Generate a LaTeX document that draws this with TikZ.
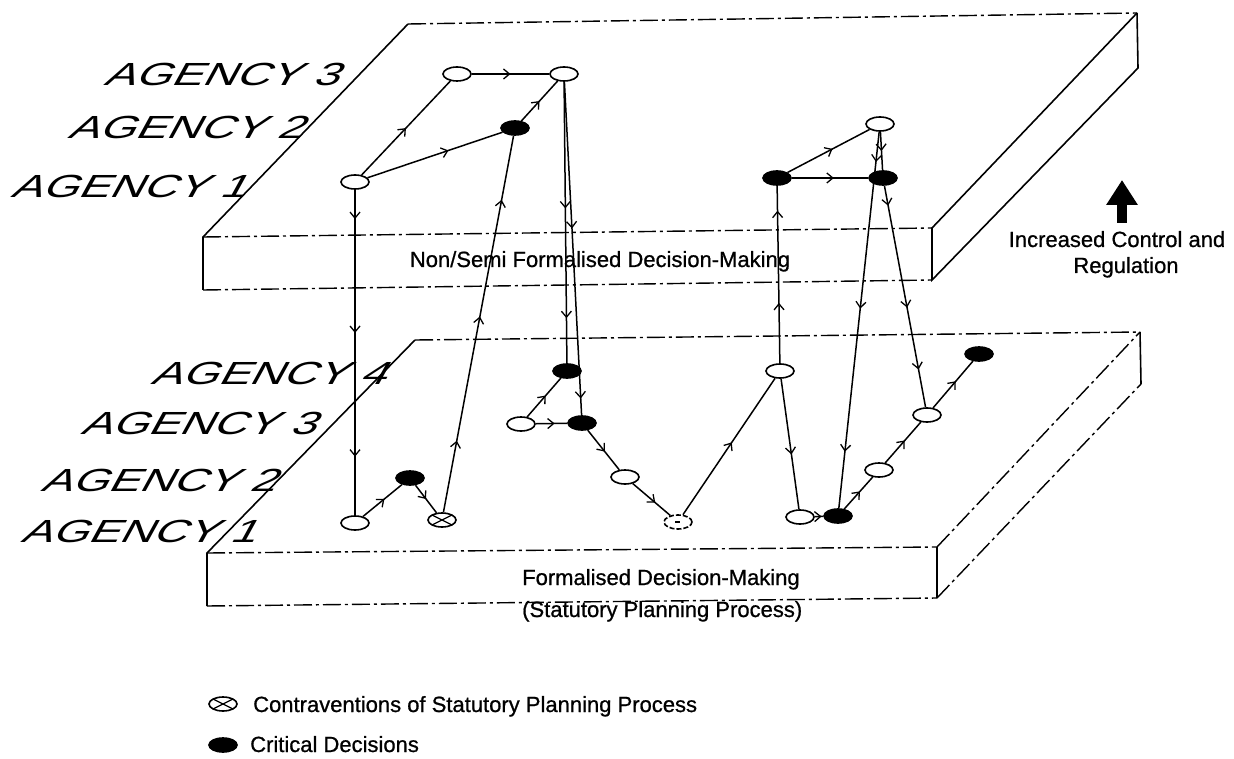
\documentclass[tikz,border=0pt]{standalone}
\usepackage{fontspec}
\setmainfont{Liberation Sans}
\newfontfamily\labelfont{Liberation Sans}[FakeBold=0.8]
\newfontfamily\handfont{Liberation Sans}[FakeSlant=0.55,FakeStretch=1.45]
\usetikzlibrary{arrows.meta,decorations.markings,shapes.geometric}

\tikzset{
  dec/.style={ellipse,draw,line width=1.6pt,minimum width=28pt,minimum height=14pt,inner sep=0pt},
  opendec/.style={dec,fill=white},
  critdec/.style={dec,fill=black},
  contra/.style={dec,fill=white,path picture={
    \draw[line width=1.3pt] (path picture bounding box.north west) -- (path picture bounding box.south east)
      (path picture bounding box.south west) -- (path picture bounding box.north east);}},
  contrafaint/.style={dec,fill=white,dash pattern=on 5pt off 2pt,path picture={
    \draw[line width=1.3pt] ([xshift=-3pt]path picture bounding box.center) -- ([xshift=3pt]path picture bounding box.center);}},
  flow/.style={line width=1.5pt},
  tipat/.style={postaction={decorate,decoration={markings,
    mark=at position #1 with {\arrow{Straight Barb[length=6pt,width=10pt,line width=1.3pt]}}}}},
  plate/.style={line width=1.6pt},
  faint/.style={line width=1.4pt,dash pattern=on 18pt off 4pt on 3pt off 4pt},
  agency/.style={font=\handfont\fontsize{32}{36}\selectfont,anchor=base west,inner sep=0pt},
  caption/.style={font=\labelfont\fontsize{22}{26}\selectfont,inner sep=0pt},
}

\begin{document}
\begin{tikzpicture}[x=1pt,y=-1pt]
    \useasboundingbox (0,0) rectangle (1234,759);
    % upper plate
    \coordinate (uBL) at (408,24);  \coordinate (uBR) at (1137,13);
    \coordinate (uFL) at (203,237); \coordinate (uFR) at (932,228);
    \coordinate (uFLb) at (203,290); \coordinate (uFRb) at (932,280); \coordinate (uBRb) at (1138,68);
    \draw[plate] (uFLb) -- (uFL) -- (uBL); \draw[faint] (uBL) -- (uBR);
    \draw[plate] (uBR) -- (uBRb) -- (uFRb) -- (uFR) -- (uBR);
    \draw[faint] (uFL) -- (uFR) (uFLb) -- (uFRb);
    % lower plate
    \coordinate (lBL) at (415,340);  \coordinate (lBR) at (1140,332);
    \coordinate (lFL) at (207,553); \coordinate (lFR) at (937,547);
    \coordinate (lFLb) at (207,606); \coordinate (lFRb) at (937,598); \coordinate (lBRb) at (1141,384);
    \draw[plate] (lFLb) -- (lFL) -- (lBL); \draw[plate] (lBR) -- (lBRb) (lFR) -- (lFRb);
    \draw[faint] (lBL) -- (lBR) (lFL) -- (lFR) (lFLb) -- (lFRb) (lFR) -- (lBR) (lFRb) -- (lBRb);

    \node[agency] (uag3) at (103,86) {AGENCY 3};
    \node[agency] (uag2) at (67,139) {AGENCY 2};
    \node[agency] (uag1) at (10,198) {AGENCY 1};
    \node[agency] (lag4) at (150,384) {AGENCY 4};
    \node[agency] (lag3) at (80,434) {AGENCY 3};
    \node[agency] (lag2) at (40,491) {AGENCY 2};
    \node[agency] (lag1) at (20,542) {AGENCY 1};

    \node[caption,anchor=base] (upname) at (600,267) {Non/Semi Formalised Decision-Making};
    \node[caption,anchor=base west] (lowname) at (522,585) {Formalised Decision-Making};
    \node[caption,anchor=base west] (lowsub) at (522,617) {(Statutory Planning Process)};
    \node[caption,anchor=base] (ctrl1) at (1117,247) {Increased Control and};
    \node[caption,anchor=base] (ctrl2) at (1126,273) {Regulation};
    \coordinate (upfoot) at (1122,223); \coordinate (uphead) at (1122,180);
    \draw[line width=10pt,-{Triangle[length=25pt,width=30pt]}] (upfoot) -- (uphead);

    % decisions, upper level
    \node[opendec] (ua1) at (355,182) {};  \node[opendec] (ua3) at (457,74) {};
    \node[opendec] (ub3) at (564,74) {};   \node[critdec] (ua2) at (515,128) {};
    \node[critdec] (uc1) at (777,178) {};  \node[critdec] (ud1) at (883,178) {};
    \node[opendec] (uc3) at (880,124) {};
    % decisions, lower level
    \node[opendec] (la1) at (355,523) {};  \node[critdec] (la2) at (410,478) {};
    \node[contra] (lx1) at (442,520) {};   \node[critdec] (la4) at (567,371) {};
    \node[opendec] (lb3) at (521,424) {};  \node[critdec] (lc3) at (582,423) {};
    \node[opendec] (lb2) at (625,477) {};  \node[contrafaint] (lx2) at (678,522) {};
    \node[opendec] (lb4) at (780,371) {};  \node[opendec] (lb1) at (800,517) {};
    \node[critdec] (lc1) at (838,516) {};  \node[opendec] (lc2) at (879,470) {};
    \node[opendec] (ld3) at (927,415) {};  \node[critdec] (ld4) at (979,354) {};

    \draw[flow,tipat=0.5] (ua1) -- (ua3);
    \draw[flow,tipat=0.5] (ua3) -- (ub3);
    \draw[flow,tipat=0.6] (ua1) -- (ua2);
    \draw[flow,tipat=0.5] (ua2) -- (ub3);
    \draw[flow,tipat=0.09,tipat=0.44,tipat=0.82] (ua1) -- (la1);
    \draw[flow,tipat=0.19,tipat=0.52,tipat=0.83] (lx1) -- (ua2);
    \draw[flow,tipat=0.45,tipat=0.84] (ub3) -- (la4);
    \draw[flow,tipat=0.44,tipat=0.95] (ub3) -- (lc3);
    \draw[flow,tipat=0.55] (la1) -- (la2);
    \draw[flow,tipat=0.5] (la2) -- (lx1);
    \draw[flow,tipat=0.55] (lb3) -- (la4);
    \draw[flow,tipat=0.6] (lb3) -- (lc3);
    \draw[flow,tipat=0.54] (lc3) -- (lb2);
    \draw[flow,tipat=0.6] (lb2) -- (lx2);
    \draw[flow,tipat=0.53] (lx2) -- (lb4);
    \draw[flow,tipat=0.34,tipat=0.86] (lb4) -- (uc1);
    \draw[flow,tipat=0.58] (lb4) -- (lb1);
    \draw[flow,tipat=0.55] (uc1) -- (uc3);
    \draw[flow,tipat=0.55] (uc1) -- (ud1);
    \draw[flow,tipat=0.5] (uc3) -- (ud1);
    \draw[flow,tipat=0.08,tipat=0.47,tipat=0.85] (uc3) -- (lc1);
    \draw[flow,tipat=0.09,tipat=0.55,tipat=0.83] (ud1) -- (ld3);
    \draw[flow,tipat=0.8] (lb1) -- (lc1);
    \draw[flow,tipat=0.55] (lc1) -- (lc2);
    \draw[flow,tipat=0.55] (lc2) -- (ld3);
    \draw[flow,tipat=0.57] (ld3) -- (ld4);

    % key
    \node[contra] (keyx) at (223,704) {};
    \node[caption,anchor=base west] (keyxtext) at (253,712) {Contraventions of Statutory Planning Process};
    \node[critdec] (keyc) at (223,745) {};
    \node[caption,anchor=base west] (keyctext) at (250,752) {Critical Decisions};
\end{tikzpicture}
\end{document}
